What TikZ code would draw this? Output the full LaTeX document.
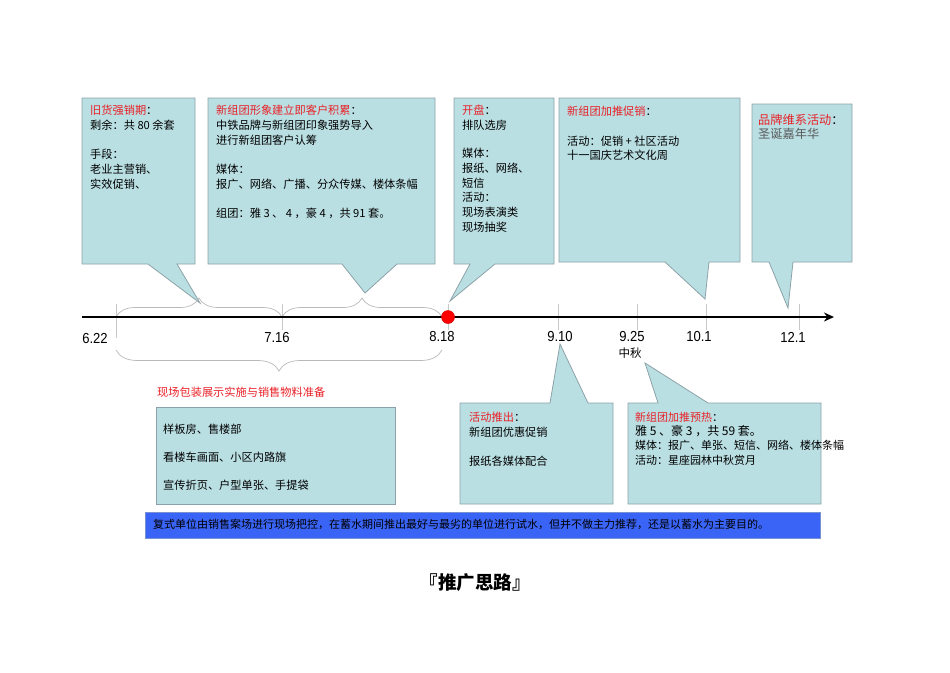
\documentclass[tikz,border=0pt]{standalone}
\usepackage{fontspec}
\setmainfont{Noto Sans CJK SC}
\newfontfamily\lat[FakeStretch=0.9]{Liberation Sans}
\usetikzlibrary{arrows.meta,decorations.pathreplacing}
\definecolor{boxfill}{RGB}{186,223,227}
\definecolor{boxline}{RGB}{140,162,168}
\definecolor{myred}{RGB}{232,32,38}
\definecolor{bannerblue}{RGB}{58,100,246}
\definecolor{bracegray}{RGB}{185,185,185}
\definecolor{ticgray}{RGB}{200,200,200}
\definecolor{darkgray}{RGB}{90,90,90}
\begin{document}
\begin{tikzpicture}[x=1pt,y=-1pt,
  callout/.style={fill=boxfill,draw=boxline,line width=0.8pt,line join=miter},
  txt/.style={anchor=north west,inner sep=0pt,align=left,font=\fontsize{11.2}{14.7}\selectfont},
  lbl/.style={inner sep=0pt,font=\lat\fontsize{14.5}{15}\selectfont},
  ticmark/.style={draw=ticgray,line width=0.7pt},
  bracestyle/.style={draw=bracegray,line width=0.7pt,decorate}]
\useasboundingbox (0,0) rectangle (950,672);

% ---------- upper callouts ----------
\draw[callout] (82,98) -- (195,98) -- (195,264) -- (177,264) -- (200,303) -- (148,264) -- (82,264) -- cycle;
\draw[callout] (208,98) -- (435,98) -- (435,264) -- (397,264) -- (365,293) -- (342,264) -- (208,264) -- cycle;
\draw[callout] (454,98) -- (554,98) -- (554,264) -- (495,264) -- (450,301) -- (470,264) -- (454,264) -- cycle;
\draw[callout] (559,98) -- (740,98) -- (740,262) -- (709,262) -- (705,299) -- (665,262) -- (559,262) -- cycle;
\draw[callout] (752,104) -- (852,104) -- (852,262) -- (793,262) -- (788,308) -- (769,262) -- (752,262) -- cycle;

\node[txt] (t1) at (90,105) {\textcolor{myred}{旧货强销期}：\\剩余：共 80 余套\\[14.7pt]手段：\\老业主营销、\\实效促销、};
\node[txt] (t2) at (216,105) {\textcolor{myred}{新组团形象建立即客户积累}：\\中铁品牌与新组团印象强势导入\\进行新组团客户认筹\\[14.7pt]媒体：\\报广、网络、广播、分众传媒、楼体条幅\\[14.7pt]组团：雅 3 、 4 ，豪 4 ，共 91 套。};
\node[txt] (t3) at (462,105) {\textcolor{myred}{开盘}：\\排队选房\\[13.5pt]媒体：\\报纸、网络、\\短信\\活动：\\现场表演类\\现场抽奖};
\node[txt] (t4) at (567,106) {\textcolor{myred}{新组团加推促销}：\\[14.7pt]活动：促销 + 社区活动\\十一国庆艺术文化周};
\node[txt,font=\fontsize{12.2}{14}\selectfont] (t5) at (758,114) {\textcolor{myred}{品牌维系活动}：\\\textcolor{darkgray}{圣诞嘉年华}};

% ---------- timeline ----------
\coordinate (tlstart) at (82,317);
\coordinate (tlend) at (834,317);
\foreach \xx in {282,448,558,637,706,799}{
  \draw[ticmark] (\xx,304) -- (\xx,330);
}
\draw[ticmark] (116,304) -- (116,338);

\draw[bracestyle,decoration={brace,amplitude=19pt}] (116,317) -- (282,317);
\draw[bracestyle,decoration={brace,amplitude=19pt}] (282,317) -- (442,317);
\draw[bracestyle,decoration={brace,amplitude=21pt}] (442,350) -- (116,350);

\draw[line width=2.8pt,-{Stealth[length=10pt,width=9pt]}] (tlstart) -- (tlend);
\node[circle,fill=red,draw={rgb,255:red,210;green,0;blue,0},line width=0.5pt,minimum size=13pt,inner sep=0pt] (dot) at (448,317) {};

\node[lbl] (l1) at (95,339) {6.22};
\node[lbl] (l2) at (277,338) {7.16};
\node[lbl] (l3) at (442,337) {8.18};
\node[lbl] (l4) at (560,337) {9.10};
\node[lbl] (l5) at (632,337) {9.25};
\node[inner sep=0pt,font=\fontsize{11.5}{12}\selectfont] (l5b) at (630,353) {中秋};
\node[lbl] (l6) at (699,337) {10.1};
\node[lbl] (l7) at (793,337) {12.1};

% ---------- lower left ----------
\node[anchor=west,inner sep=0pt,font=\fontsize{11.2}{12}\selectfont,text=myred] (ptitle) at (157,392) {现场包装展示实施与销售物料准备};
\draw[fill=boxfill,draw=boxline,line width=0.8pt] (156,407) rectangle (395,504);
\node[txt,font=\fontsize{11.2}{28}\selectfont] (pbox) at (163,424) {样板房、售楼部\\看楼车画面、小区内路旗\\宣传折页、户型单张、手提袋};

% ---------- lower callouts ----------
\draw[callout] (460,403) -- (550,403) -- (560,344) -- (588,403) -- (613,403) -- (613,504) -- (460,504) -- cycle;
\draw[callout] (628,403) -- (658,403) -- (645,363) -- (708,403) -- (821,403) -- (821,504) -- (628,504) -- cycle;
\node[txt] (t6) at (469,412) {\textcolor{myred}{活动推出}：\\新组团优惠促销\\[14.2pt]报纸各媒体配合};
\node[txt,font=\fontsize{11}{14.2}\selectfont] (t7) at (635,412) {\textcolor{myred}{新组团加推预热}：\\{\fontsize{12}{14.2}\selectfont 雅 5 、豪 3 ，共 59 套。}\\媒体：报广、单张、短信、网络、楼体条幅\\活动：星座园林中秋赏月};

% ---------- banner ----------
\draw[fill=bannerblue,draw={rgb,255:red,120;green,145;blue,210},line width=0.6pt] (145,512) rectangle (820,538);
\node[anchor=west,inner sep=0pt,font=\fontsize{11}{12}\selectfont] (banner) at (153,524) {复式单位由销售案场进行现场把控，在蓄水期间推出最好与最劣的单位进行试水，但并不做主力推荐，还是以蓄水为主要目的。};

% ---------- title ----------
\node[inner sep=0pt,font=\bfseries\fontsize{18.5}{20}\selectfont] (title) at (475,583) {『推广思路』};
\end{tikzpicture}
\end{document}
